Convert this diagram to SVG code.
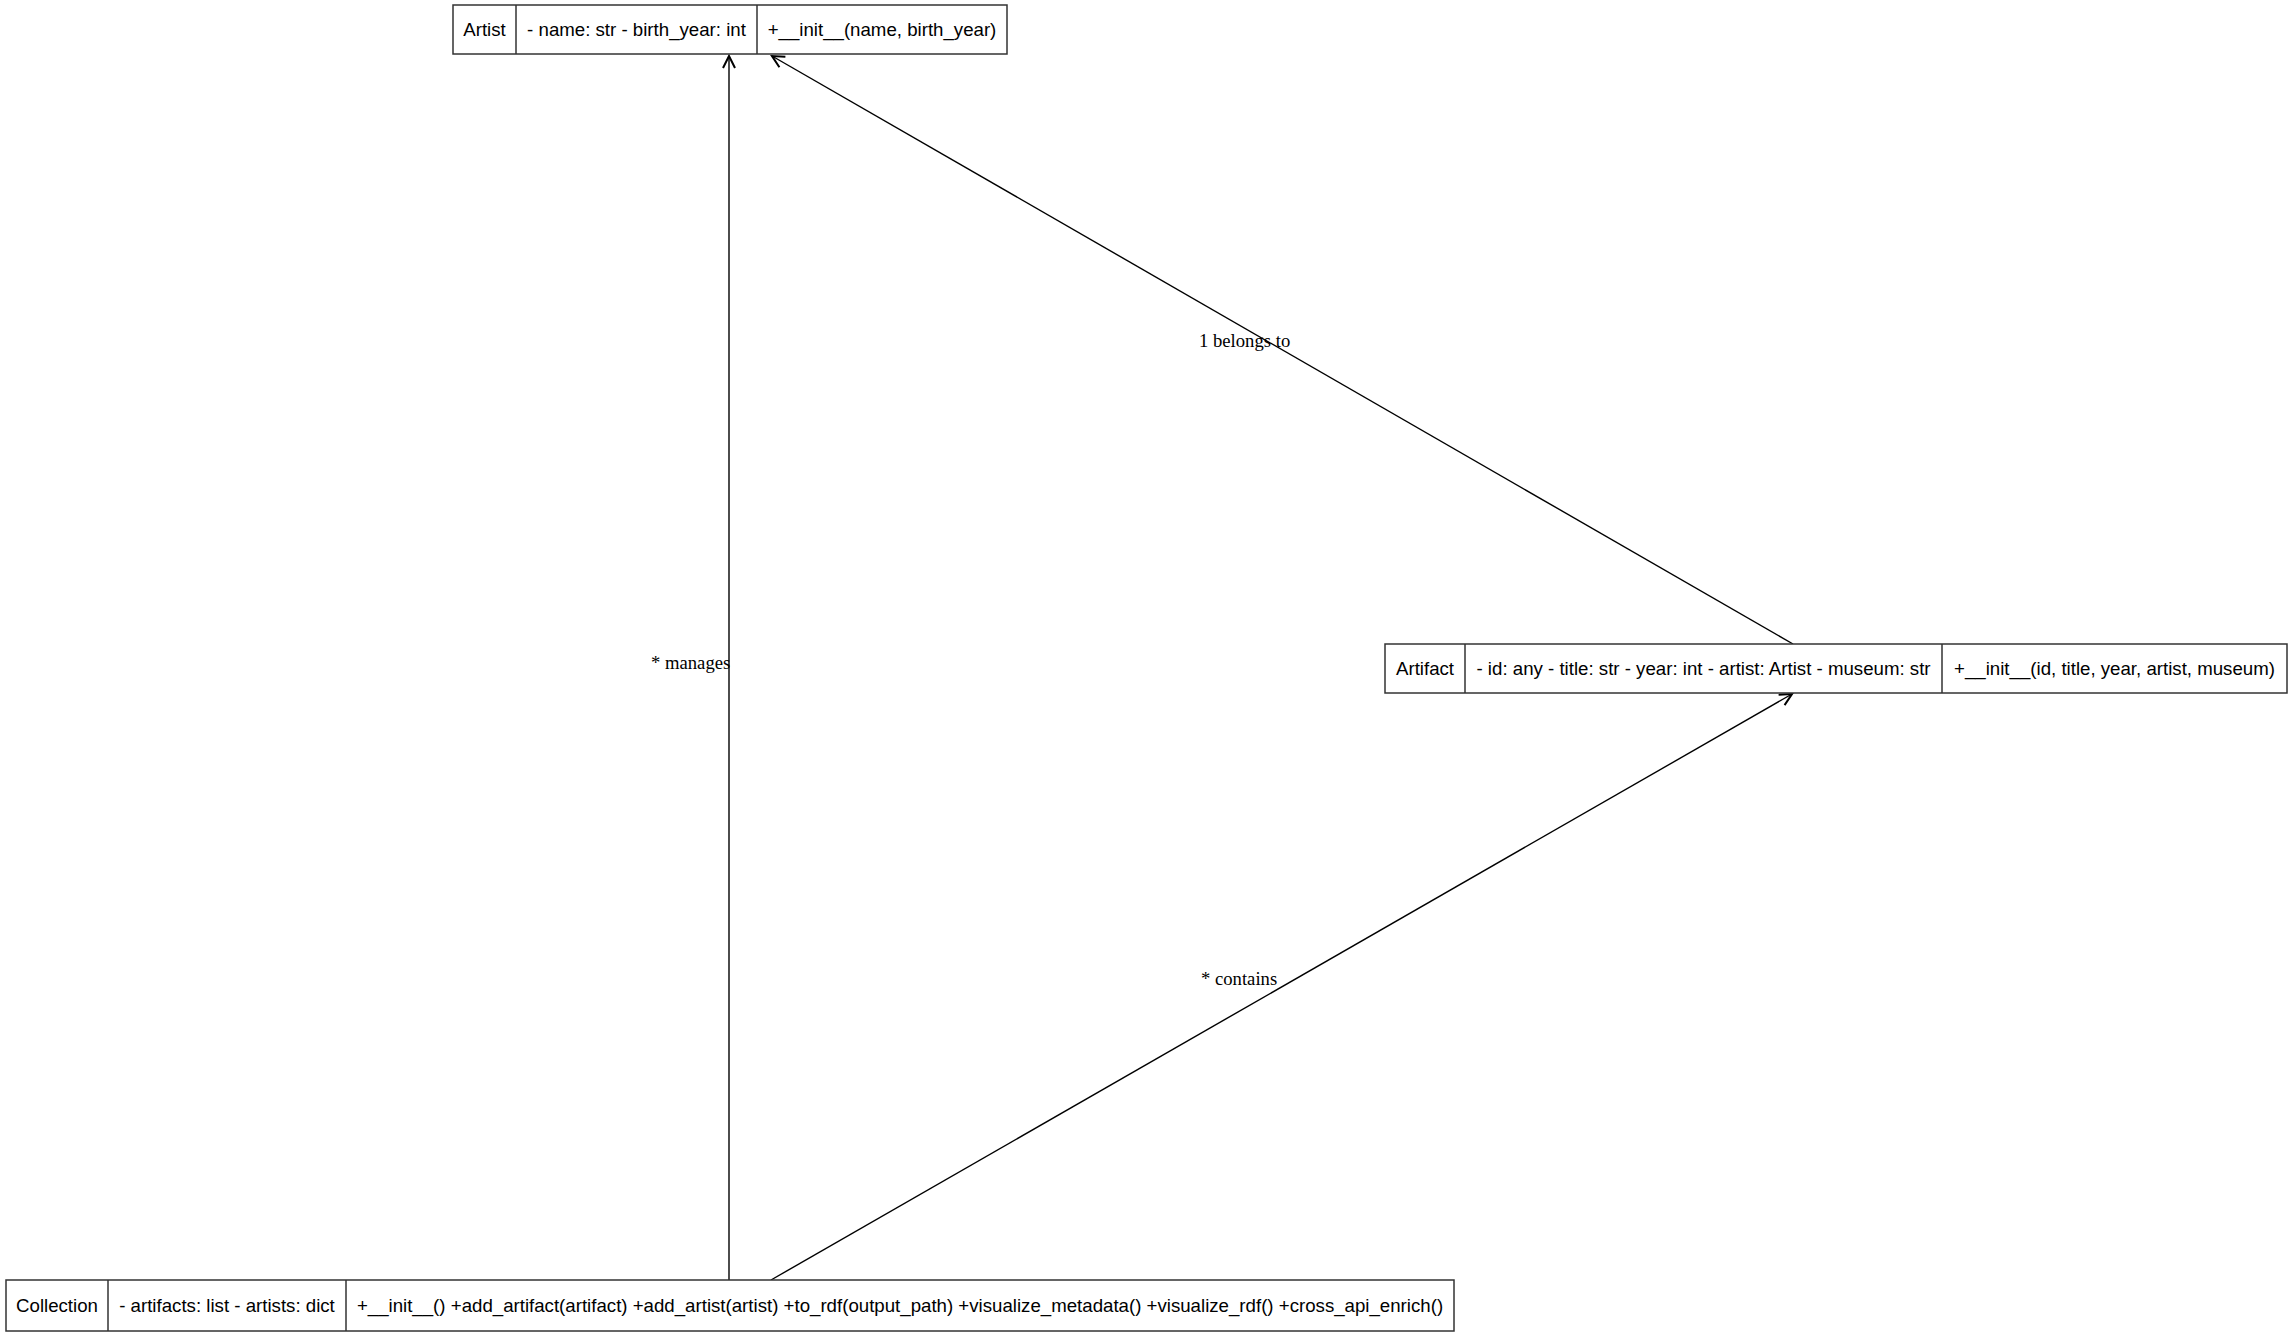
<svg xmlns="http://www.w3.org/2000/svg" width="2291" height="1337" viewBox="0 0 2291 1337">
<style>
.box{fill:#fff;stroke:#333;stroke-width:1.5}
.div{stroke:#333;stroke-width:1.5}
.t{font-family:"Liberation Sans",Arial,sans-serif;font-size:18.67px;fill:#000;text-anchor:middle}
.lbl{font-family:"Liberation Serif","Times New Roman",serif;font-size:18.67px;fill:#000}
.edge{stroke:#000;stroke-width:1.4;fill:none}
</style>
<defs>
<marker id="vee" markerUnits="userSpaceOnUse" markerWidth="16" markerHeight="16" refX="13" refY="7" orient="auto">
<path d="M1,1 L13,7 L1,13" fill="none" stroke="#000" stroke-width="2"/>
</marker>
</defs>
<rect width="2291" height="1337" fill="#fff"/>
<g id="connectors">
<line class="edge" x1="729" y1="1280" x2="729" y2="56" marker-end="url(#vee)"/>
<line class="edge" x1="771" y1="1280" x2="1792" y2="694" marker-end="url(#vee)"/>
<line class="edge" x1="1793" y1="644" x2="772" y2="56" marker-end="url(#vee)"/>
<text class="lbl" x="651" y="669">* manages</text>
<text class="lbl" x="1199" y="347">1 belongs to</text>
<text class="lbl" x="1201" y="985">* contains</text>
</g>
<g id="Artist">
<rect class="box" x="453" y="5" width="554" height="49"/>
<line class="div" x1="516" y1="5" x2="516" y2="54"/>
<line class="div" x1="757" y1="5" x2="757" y2="54"/>
<text class="t" x="484.5" y="36">Artist</text>
<text class="t" x="636.5" y="36">- name: str - birth_year: int</text>
<text class="t" x="882" y="36">+__init__(name, birth_year)</text>
</g>
<g id="Artifact">
<rect class="box" x="1385" y="644" width="902" height="49"/>
<line class="div" x1="1465" y1="644" x2="1465" y2="693"/>
<line class="div" x1="1942" y1="644" x2="1942" y2="693"/>
<text class="t" x="1425" y="675">Artifact</text>
<text class="t" x="1703.5" y="675">- id: any - title: str - year: int - artist: Artist - museum: str</text>
<text class="t" x="2114.5" y="675">+__init__(id, title, year, artist, museum)</text>
</g>
<g id="Collection">
<rect class="box" x="6" y="1280" width="1448" height="51"/>
<line class="div" x1="108" y1="1280" x2="108" y2="1331"/>
<line class="div" x1="346" y1="1280" x2="346" y2="1331"/>
<text class="t" x="57" y="1312">Collection</text>
<text class="t" x="227" y="1312">- artifacts: list - artists: dict</text>
<text class="t" x="900" y="1312">+__init__() +add_artifact(artifact) +add_artist(artist) +to_rdf(output_path) +visualize_metadata() +visualize_rdf() +cross_api_enrich()</text>
</g>
</svg>
